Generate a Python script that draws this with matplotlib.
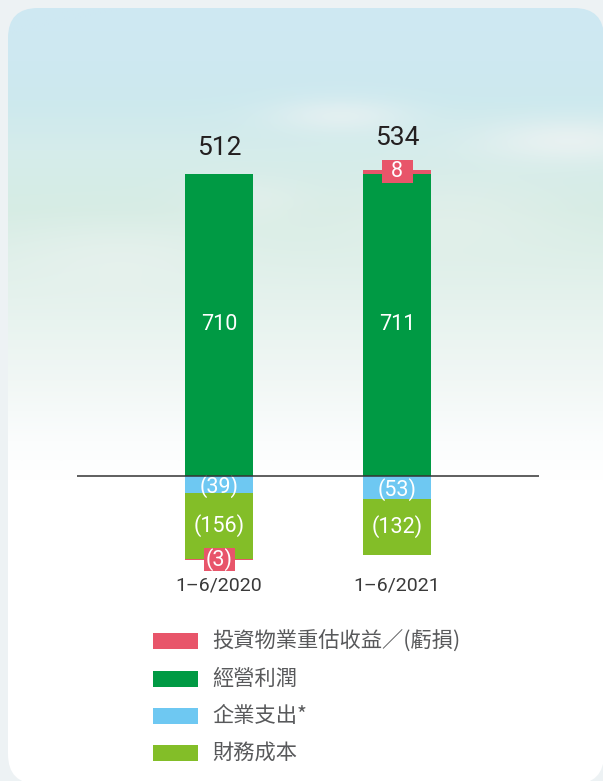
import numpy as np
import matplotlib
matplotlib.use("Agg")
import matplotlib.pyplot as plt
from matplotlib.patches import FancyBboxPatch, Rectangle

# ---------------- data ----------------
categories = ["1–6/2020", "1–6/2021"]
reval = [-3, 8]            # 投資物業重估收益／(虧損)
op_profit = [710, 711]     # 經營利潤
corp_exp = [-39, -53]      # 企業支出*
fin_cost = [-156, -132]    # 財務成本

legend_labels = ["投資物業重估收益／(虧損)", "經營利潤", "企業支出*", "財務成本"]
colors = {"reval": "#e8556a", "op": "#009a44", "corp": "#6ec8f2", "fin": "#83be28"}

W, H = 603, 781
fig = plt.figure(figsize=(W / 100, H / 100), dpi=100)
fig.patch.set_facecolor("#edf2f4")

# ---------------- background ----------------
bg = fig.add_axes([0, 0, 1, 1])
bg.set_xlim(0, W)
bg.set_ylim(H, 0)
bg.axis("off")
ys = np.arange(H).astype(float)
xs = np.arange(W).astype(float)
stops_y = [0, 60, 100, 150, 210, 300, 380, 440, 480, 800]
stops_c = np.array([
    (207, 232, 243), (206, 232, 241), (205, 233, 238), (213, 236, 235),
    (214, 236, 228), (229, 242, 237), (241, 247, 245), (251, 253, 253),
    (255, 255, 255), (255, 255, 255)]) / 255.0
img = np.zeros((H, W, 3))
for c in range(3):
    img[:, :, c] = np.interp(ys, stops_y, stops_c[:, c])[:, None]
X, Y = np.meshgrid(xs, ys)
blobs = [(340, 115, 70, 18, 0.5), (570, 140, 90, 22, 0.6), (120, 255, 110, 35, 0.3),
         (450, 215, 120, 40, 0.3), (250, 200, 60, 25, 0.3)]
wsum = np.zeros((H, W))
for cx, cy, sx, sy, s in blobs:
    wsum += s * np.exp(-(((X - cx) / sx) ** 2 + ((Y - cy) / sy) ** 2))
wsum = np.clip(wsum, 0, 0.8)[:, :, None]
img = img * (1 - wsum) + 0.96 * wsum
im = bg.imshow(img, extent=(0, W, H, 0), interpolation="bilinear", aspect="auto")
clip = FancyBboxPatch((8, 8), 596, 776, boxstyle="round,pad=0,rounding_size=30",
                      transform=bg.transData, facecolor="none", edgecolor="none")
bg.add_patch(clip)
im.set_clip_path(clip)

# ---------------- main chart ----------------
zero_px = 476.0
scale = 0.4254  # px per unit
y_lo, y_hi = -250, 750
bottom_px = zero_px - y_lo * scale
height_px = (y_hi - y_lo) * scale
c0, c1 = 219.0, 397.0
ppu = c1 - c0
ax_left, ax_right = 77.0, 539.0
ax = fig.add_axes([ax_left / W, (H - bottom_px) / H, (ax_right - ax_left) / W, height_px / H])
ax.set_xlim((ax_left - c0) / ppu, (ax_right - c0) / ppu)
ax.set_ylim(y_lo, y_hi)
ax.axis("off")
ax.patch.set_alpha(0)

num_font = "Roboto"
cjk = ["Noto Sans CJK TC", "DejaVu Sans"]
x = np.arange(len(categories))
bw = 68 / ppu

pos = np.zeros(len(x))
neg = np.zeros(len(x))
series = [("op", op_profit), ("corp", corp_exp), ("fin", fin_cost), ("reval", reval)]
segments = []
for key, vals in series:
    for i, v in enumerate(vals):
        if v >= 0:
            b = pos[i]; pos[i] += v
        else:
            b = neg[i]; neg[i] += v
        ax.bar(x[i], v, bottom=b, width=bw, color=colors[key], linewidth=0, zorder=2)
        segments.append((key, i, v, b + v / 2))

def fmt(v):
    return f"({abs(v)})" if v < 0 else f"{v}"

box_w = 31 / ppu
box_h = 23 / scale
box_tops = {}
for key, i, v, mid in segments:
    ty = mid
    if key == "reval":
        ax.add_patch(Rectangle((x[i] - box_w / 2, mid - box_h / 2), box_w, box_h,
                               facecolor=colors["reval"], edgecolor="none", zorder=3,
                               clip_on=False))
        box_tops[i] = mid + box_h / 2
    elif key == "corp":
        ty = mid - 2 / scale
    ax.text(x[i], ty, fmt(v), ha="center", va="center", color="white",
            fontsize=15.5, family=num_font, zorder=4, clip_on=False)

ax.axhline(0, color="#333333", linewidth=1.1, zorder=5)

totals = [a + b + c + d for a, b, c, d in zip(reval, op_profit, corp_exp, fin_cost)]
for i, t in enumerate(totals):
    top = pos[i]
    ylab = top + 26 / scale
    if i in box_tops:
        ylab = max(ylab, box_tops[i] + 22 / scale)
    ax.text(x[i], ylab, f"{t}", ha="center", va="center", color="#231f20",
            fontsize=19, family=num_font, clip_on=False)
    ax.text(x[i], -(586 - zero_px) / scale, categories[i], ha="center", va="center",
            color="#3a3a3a", fontsize=14, family=num_font, clip_on=False)

# ---------------- legend ----------------
leg_keys = ["reval", "op", "corp", "fin"]
leg_y = [641, 679, 716, 753]
for k, lab, yy in zip(leg_keys, legend_labels, leg_y):
    fig.add_artist(Rectangle((153 / W, (H - yy - 8) / H), 45 / W, 16 / H,
                             facecolor=colors[k], edgecolor="none", transform=fig.transFigure))
    fig.text(212 / W, (H - yy) / H, lab, ha="left", va="center", color="#58595b",
             fontsize=15.3, family=cjk)

fig.savefig("out.png", dpi=100, facecolor=fig.get_facecolor())
